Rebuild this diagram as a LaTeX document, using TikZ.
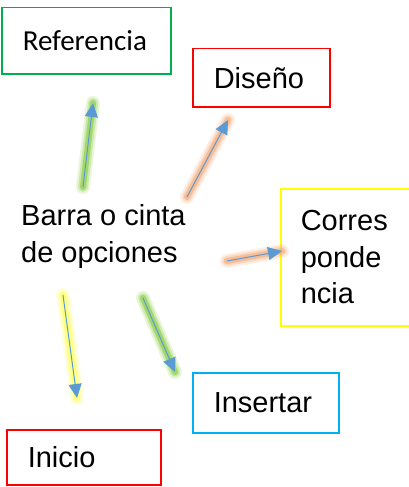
\documentclass[tikz,border=0pt]{standalone}
\usepackage{fontspec}
\setmainfont{Liberation Sans}
\newfontfamily\calibri{Carlito}
\usetikzlibrary{arrows.meta}
\definecolor{cgreen}{HTML}{00B050}
\definecolor{cred}{HTML}{FF0000}
\definecolor{cyellow}{HTML}{FFFF00}
\definecolor{ccyan}{HTML}{00B0F0}
\definecolor{arrowblue}{HTML}{5B9BD5}
\definecolor{glowgreen}{HTML}{92D050}
\definecolor{gloworange}{HTML}{F4B183}
\definecolor{glowyellow}{HTML}{FFFF66}
\newcommand\bigfont{\fontsize{29}{36.5}\selectfont}
\newcommand\glowline[3]{%
  \draw[#1, line width=14pt, opacity=0.2, line cap=round] (#2) -- (#3);
  \draw[#1, line width=10pt, opacity=0.35, line cap=round] (#2) -- (#3);
  \draw[#1, line width=6pt, opacity=0.7, line cap=round] (#2) -- (#3);}
\tikzset{
  box/.style={draw, line width=1.5pt, anchor=north west, align=left,
    inner xsep=21pt, inner ysep=0pt, font=\bigfont},
  conn/.style={draw=arrowblue, line width=1pt,
    -{Triangle[length=14pt,width=13pt,fill=arrowblue]}},
  plain/.style={anchor=base west, align=left, inner sep=0pt, font=\bigfont}
}
\begin{document}
\begin{tikzpicture}[x=1pt,y=-1pt]
\useasboundingbox (0,0) rectangle (409,487);
\clip (0,0) rectangle (409,487);
% boxes
\node[box, draw=cgreen, text width=127pt, minimum height=66pt, font=\calibri\bigfont] (ref) at (1,7) {Referencia};
\node[box, draw=cred, text width=95pt, minimum height=58pt] (dis) at (192,48) {Diseño};
\node[box, draw=cyellow, inner xsep=20pt, text width=100pt, minimum height=137pt] (cor) at (280,188) {Corres\\ponde\\ncia};
\node[box, draw=ccyan, text width=104pt, minimum height=60pt] (ins) at (192,372) {Insertar};
\node[box, draw=cred, text width=112pt, minimum height=55pt] (ini) at (6,429) {Inicio};
\node[plain] (barra) at (21,262) {Barra o cinta\\de opciones};
% connector end points
\coordinate (refS) at (83,187);  \coordinate (refT) at (93,103);
\coordinate (disS) at (187,197); \coordinate (disT) at (228,120);
\coordinate (corS) at (227,261); \coordinate (corT) at (282,251);
\coordinate (iniS) at (63,295);  \coordinate (iniT) at (77,398);
\coordinate (insS) at (143,298); \coordinate (insT) at (175,372);
% glows
\glowline{glowgreen}{refS}{refT}
\glowline{gloworange}{disS}{disT}
\glowline{gloworange}{corS}{corT}
\glowline{glowyellow}{iniS}{iniT}
\glowline{glowgreen}{insS}{insT}
% connectors
\draw[conn] (refS) -- (refT);
\draw[conn] (disS) -- (disT);
\draw[conn] (corS) -- (corT);
\draw[conn] (iniS) -- (iniT);
\draw[conn] (insS) -- (insT);
\end{tikzpicture}
\end{document}
